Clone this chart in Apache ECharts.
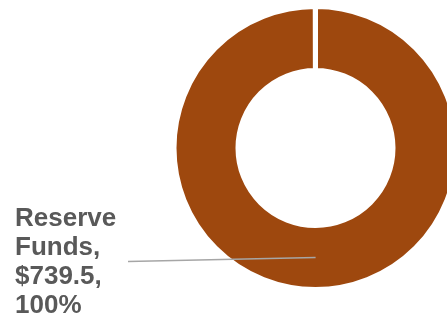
<!DOCTYPE html>
<html>
<head>
<meta charset="utf-8">
<script src="https://cdn.jsdelivr.net/npm/echarts@6/dist/echarts.min.js"></script>
<style>
html,body{margin:0;padding:0;background:#fff;}
#c{width:447px;height:320px;}
</style>
</head>
<body>
<div id="c"></div>
<script>
const categories = ['Reserve Funds'];
const values = [739.5];
const percents = ['100%'];

const CX = 315.5, CY = 148;
const R_IN = 80, R_OUT = 139;
const BW = 5;

const pieData = categories.map((n, i) => ({ name: n, value: values[i] }));

const chart = echarts.init(document.getElementById('c'), null, {renderer: 'canvas'});
chart.setOption({
  backgroundColor: '#ffffff',
  animation: false,
  series: [{
    type: 'pie',
    z: 2,
    center: [CX, CY],
    radius: [R_IN - BW / 2, R_OUT + BW / 2],
    startAngle: 90,
    endAngle: -269.9,
    clockwise: true,
    silent: true,
    itemStyle: { color: '#9E480E', borderColor: '#ffffff', borderWidth: BW },
    label: { show: false },
    labelLine: { show: false },
    data: pieData
  }, {
    type: 'pie',
    z: 5,
    center: [CX, CY],
    radius: [R_IN, R_OUT],
    startAngle: 90,
    endAngle: -269.9,
    clockwise: true,
    silent: true,
    avoidLabelOverlap: false,
    itemStyle: { color: 'rgba(0,0,0,0)', borderWidth: 0 },
    label: {
      show: true,
      position: 'outside',
      formatter: function (p) {
        return p.name.replace(' ', '\n') + ',\n$' + p.value.toFixed(1) + ',\n' + percents[p.dataIndex];
      },
      fontFamily: 'Liberation Sans, Arial, sans-serif',
      fontWeight: 'bold',
      fontSize: 26,
      lineHeight: 29,
      color: '#595959',
      align: 'left'
    },
    labelLine: { show: true, showAbove: true, lineStyle: { color: '#A6A6A6', width: 1.5 } },
    labelLayout: function (params) {
      const p0 = params.labelLinePoints ? params.labelLinePoints[0] : [CX, CY + R_OUT];
      const k = ((R_IN + R_OUT) / 2) / R_OUT;
      const start = [CX + (p0[0] - CX) * k, CY + (p0[1] - CY) * k];
      const end = [128, start[1] + 4];
      return {
        x: 15,
        y: 204,
        align: 'left',
        verticalAlign: 'top',
        labelLinePoints: [start, end, end]
      };
    },
    data: pieData
  }]
});
</script>
</body>
</html>
